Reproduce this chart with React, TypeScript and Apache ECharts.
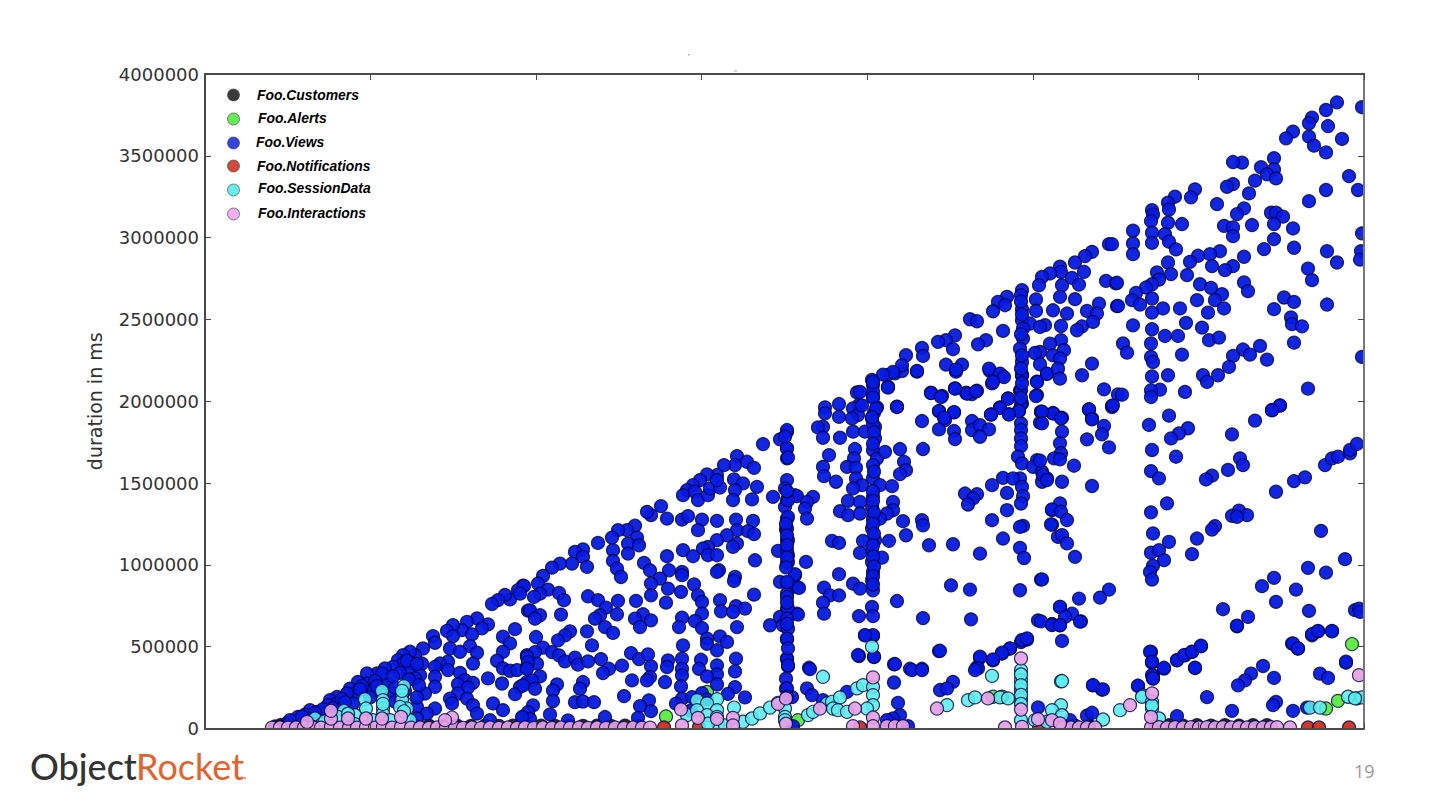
import React, { useEffect, useRef } from "react";
import * as echarts from "echarts";

// x: elapsed time in axis units (the original axis has no labels); y: duration in thousands of ms
const viewsLow = [[318,873],[313,846],[305,789],[300,816],[293,785],[287,761],[323,720],[310,607],[283,636],[272,673],[262,652],[277,612],[257,601],[267,575],[248,632],[242,597],[248,565],[228,565],[230,524],[218,489],[298,561],[305,520],[298,469],[292,414],[265,503],[272,463],[245,489],[255,469],[268,397],[322,448],[298,367],[305,353],[312,357],[322,377],[283,306],[297,275],[322,285],[315,255],[310,210],[288,153],[298,112],[243,408],[235,397],[230,377],[243,357],[230,316],[255,340],[260,295],[268,279],[253,271],[263,250],[253,214],[245,183],[262,183],[268,142],[272,91],[247,153],[230,255],[220,214],[212,132],[230,122],[222,91],[285,51],[318,71],[212,61],[217,397],[210,448],[205,469],[198,448],[193,418],[198,397],[207,397],[203,346],[215,326],[210,306],[188,377],[180,367],[172,336],[162,336],[153,285],[162,275],[182,275],[177,336],[187,218],[145,244],[150,214],[142,214],[148,153],[132,193],[125,173],[132,153],[123,143],[105,112],[112,102],[93,71],[85,51],[167,224],[116,92],[100,85],[128,125],[200,230],[190,250],[195,340],[188,320],[202,415],[212,395],[170,290],[157,260],[137,180],[140,160],[118,118],[110,95],[97,72],[204,300],[214,265],[172,260],[155,240],[165,190],[190,165],[212,190]];
const viewsMidA = [[558,1738],[582,1814],[575,1767],[582,1712],[582,1651],[532,1665],[530,1610],[519,1610],[542,1630],[549,1593],[512,1549],[502,1553],[495,1518],[488,1487],[482,1457],[478,1426],[490,1447],[493,1396],[503,1426],[505,1467],[515,1473],[512,1518],[529,1522],[538,1498],[530,1457],[552,1477],[528,1396],[547,1400],[456,1359],[446,1304],[442,1324],[462,1283],[477,1277],[483,1298],[497,1277],[493,1212],[512,1269],[531,1277],[548,1269],[430,1239],[422,1212],[413,1212],[407,1167],[393,1134],[432,1167],[423,1130],[434,1120],[408,1090],[423,1069],[408,1024],[412,977],[416,926],[378,1094],[370,1079],[378,1049],[367,1008],[355,1008],[347,983],[382,988],[532,1212],[522,1181],[512,1151],[503,1110],[498,1100],[532,1130],[528,1110],[543,1206],[549,1188],[478,1090],[488,1053],[462,1053],[503,1059],[512,1059],[550,1028],[439,1012],[445,967],[464,967],[477,957],[477,937],[514,967],[512,957],[530,926],[529,902],[455,916],[446,886],[463,855],[489,881],[476,835],[446,814],[549,818],[338,932],[333,886],[343,849],[354,828],[335,824],[329,804],[359,784],[319,871],[315,824],[383,808],[393,784],[413,780],[431,780],[461,769],[493,814],[497,773],[515,784],[531,747],[540,733],[516,716],[528,712],[401,739],[395,692],[390,671],[325,722],[335,692],[330,671],[356,696],[412,698],[497,702],[438,698],[430,671],[446,661],[435,620],[477,677],[474,620],[490,657],[497,614],[532,620],[400,620],[408,584],[382,594],[365,594],[360,569],[353,539],[331,559],[515,563],[522,529],[502,549],[502,518],[512,478],[478,508],[387,508],[338,494],[330,467],[347,467],[322,437],[354,447],[360,410],[370,433],[373,390],[383,410],[396,424],[332,396],[323,406],[322,365],[426,461],[434,424],[443,453],[446,380],[417,384],[404,365],[398,339],[445,314],[442,294],[427,294],[460,284],[463,416],[462,376],[477,427],[477,365],[477,325],[476,257],[496,420],[494,365],[512,386],[512,331],[502,318],[512,269],[531,427],[530,349],[530,253],[335,318],[327,294],[318,263],[330,243],[352,269],[348,233],[378,284],[375,243],[348,168],[370,161],[378,165],[389,161],[419,198],[444,172],[435,137],[446,106],[433,65],[400,70],[363,49],[345,86],[328,141],[323,100],[325,59],[317,70],[477,182],[487,192],[497,216]];
const viewsColumn582 = [[582,427],[583,380],[581,304],[581,243],[587,192],[582,1518],[580,1467],[568,1416],[582,1396],[590,1426],[580,1355],[582,1283],[581,1216],[582,1151],[573,1086],[583,1059],[582,1012],[590,937],[575,896],[582,890],[582,824],[592,865],[582,733],[575,682],[592,702],[565,631],[578,631],[582,545],[582,1824],[580,1783],[582,1712],[583,1656],[592,1420],[583,1395],[608,1416],[602,1385],[600,1344],[602,1283],[583,1293],[582,1222],[583,1151],[582,1089],[583,1018],[601,1018],[590,943],[582,896],[594,859],[582,804],[583,732],[593,696],[582,671],[583,610],[582,549],[582,426],[583,386],[582,1450],[581,1250],[582,1180],[582,1120],[582,1045],[581,985],[582,770],[582,640],[583,490]];
const viewsColumn668 = [[667,2130],[668,2099],[668,2028],[672,1963],[667,1895],[670,1844],[670,1773],[668,1701],[672,1650],[668,1610],[668,1528],[675,1487],[668,1416],[667,1355],[668,1283],[667,1222],[670,1151],[667,1089],[667,1018],[668,957],[667,906],[668,845],[680,1691],[695,1708],[699,1630],[701,1579],[695,1555],[652,2054],[683,2089],[692,1967],[654,1977],[648,1956],[653,1916],[647,1895],[648,1814],[660,1814],[620,1963],[634,1983],[620,1926],[634,1905],[618,1844],[613,1840],[618,1777],[635,1777],[650,1708],[649,1650],[624,1671],[618,1599],[642,1599],[651,1593],[619,1542],[651,1528],[631,1508],[657,1487],[648,1467],[687,1481],[643,1391],[655,1385],[688,1385],[635,1328],[643,1304],[655,1314],[688,1334],[682,1314],[675,1283],[698,1267],[717,1273],[718,1242],[701,1181],[627,1147],[634,1134],[658,1147],[684,1147],[724,1120],[655,1073],[677,1044],[634,943],[648,885],[655,855],[619,861],[625,814],[634,814],[618,769],[619,702],[654,687],[692,779],[667,743],[668,687],[660,569],[668,565],[654,443],[669,437],[718,675],[766,667],[734,473],[689,392],[705,365],[717,365],[604,371],[668,2060],[669,1930],[668,1860],[669,1810],[668,1740],[669,1570],[668,1450],[668,1390],[669,1320],[668,1250],[669,1190],[668,1120],[668,1050],[669,990],[668,930],[668,880]];
const viewsMidB = [[712,2181],[682,2160],[690,2171],[697,2185],[751,2181],[726,2052],[737,2032],[750,2079],[761,2052],[767,2044],[772,2064],[734,1940],[749,1932],[740,1885],[717,1879],[734,1828],[749,1818],[750,1769],[767,1879],[767,1824],[775,1854],[784,1828],[775,1783],[718,1708],[787,2109],[797,2154],[785,2185],[817,2160],[832,2120],[842,2167],[815,2065],[832,2038],[803,2018],[795,1963],[786,1920],[804,1920],[817,1987],[814,1942],[836,1936],[848,1926],[835,1869],[816,1865],[816,1824],[816,1773],[816,1726],[813,1661],[817,1620],[815,1528],[798,1532],[808,1528],[817,1477],[818,1420],[816,1375],[802,1440],[787,1487],[832,1640],[828,1599],[837,1569],[842,1528],[837,1508],[760,1436],[772,1432],[768,1406],[763,1369],[802,1334],[787,1273],[818,1238],[815,1232],[847,1246],[847,1334],[853,1171],[798,1161],[748,1126],[815,1104],[775,1069],[819,1042],[746,875],[765,849],[815,845],[836,910],[833,661],[847,637],[855,743],[822,543],[816,528],[805,488],[797,457],[788,416],[775,432],[772,375]];
const viewsUpperA = [[904,2960],[887,2913],[880,2887],[870,2848],[879,2791],[855,2822],[856,2791],[845,2781],[837,2760],[834,2709],[857,2709],[855,2638],[867,2754],[874,2713],[870,2624],[901,2736],[911,2720],[912,2581],[894,2597],[882,2552],[892,2536],[862,2536],[848,2556],[831,2622],[831,2552],[817,2679],[816,2648],[817,2563],[817,2495],[825,2475],[818,2444],[840,2465],[835,2454],[856,2460],[877,2458],[872,2434],[888,2485],[802,2638],[793,2607],[800,2587],[788,2550],[765,2501],[772,2489],[798,2430],[750,2403],[741,2373],[733,2363],[748,2318],[781,2373],[773,2348],[717,2326],[718,2277],[701,2281],[697,2220],[688,2179],[678,2163],[712,2185],[668,2118],[683,2083],[818,2383],[815,2322],[817,2240],[817,2159],[816,2067],[832,2118],[831,2032],[856,2373],[845,2352],[859,2312],[848,2281],[855,2261],[835,2301],[830,2295],[835,2226],[842,2169],[853,2199],[855,2138],[887,2230],[877,2159],[899,2073],[913,2042],[907,1965],[784,2199],[795,2169],[799,2148],[788,2118],[741,2224],[757,2224],[751,2193],[750,2077],[726,2050],[736,2026],[762,2046],[771,2061],[803,2016],[795,1959],[816,1981],[814,1940],[804,1920],[786,1918],[734,1940],[749,1934],[739,1899],[692,1965],[668,2022],[671,1955],[667,1903],[655,2057],[657,1975],[836,1934],[848,1928],[857,1899],[884,1948],[887,1893],[816,2610],[817,2530],[816,2410],[817,2280],[816,2200],[817,2110],[816,2020]];
const viewsRightLow = [[884,1951],[907,1971],[887,1890],[899,1849],[897,1798],[882,1767],[904,1718],[848,1926],[856,1896],[857,1814],[855,1743],[856,1682],[849,1651],[855,1645],[869,1606],[837,1937],[837,1865],[835,1637],[838,1549],[842,1518],[857,1508],[887,1482],[855,1376],[847,1339],[856,1325],[862,1274],[846,1247],[857,1182],[862,1131],[870,1049],[837,911],[904,849],[895,800],[874,794],[855,743],[867,702],[860,682],[876,655],[855,631],[847,637],[836,655],[857,535],[888,264],[897,237],[944,1855],[964,1912],[983,1835],[974,1804],[966,1773],[947,1702],[971,1661],[946,1573],[954,1529],[962,1376],[946,1321],[948,1192],[964,1141],[946,1074],[954,1090],[959,1029],[948,994],[945,957],[947,910],[992,1161],[987,1066],[1027,1798],[1050,1882],[1067,1947],[1075,1973],[1035,1651],[1038,1610],[1023,1580],[1007,1545],[1001,1522],[1071,1447],[1089,1512],[1100,1535],[1120,1610],[1127,1651],[1133,1661],[1145,1682],[1145,1702],[1152,1739],[1027,1300],[1034,1331],[1042,1304],[1032,1294],[1010,1237],[1007,1216],[1116,1208],[1140,1035],[1103,982],[1121,953],[1069,921],[1057,870],[1091,849],[1071,774],[1018,729],[1104,719],[1043,682],[1032,625],[1150,723],[1154,733],[1155,713],[1127,594],[1113,594],[1107,570],[1087,519],[1093,488],[996,502],[987,468],[980,447],[972,417],[990,370],[959,366],[946,468],[947,402],[948,325],[948,305],[933,260],[1058,382],[1046,335],[1040,294],[1033,264],[1069,309],[1115,335],[1123,309],[1141,402],[1002,192],[1071,162]];
const viewsUpperB = [[1132,3827],[1121,3780],[1157,3797],[1107,3733],[1104,3699],[1123,3682],[1088,3648],[1081,3607],[1104,3617],[1109,3562],[1137,3603],[1121,3521],[1069,3485],[1037,3458],[1028,3462],[1056,3430],[1069,3417],[1062,3387],[1071,3362],[1050,3348],[1144,3376],[1121,3291],[1153,3291],[1104,3223],[1028,3327],[1022,3311],[1044,3270],[1012,3205],[990,3295],[986,3246],[970,3250],[963,3213],[964,3172],[947,3168],[948,3142],[946,3101],[963,3091],[977,3083],[928,3042],[947,3030],[960,3021],[907,2960],[928,2964],[947,2968],[964,2975],[971,2928],[928,2899],[1039,3179],[1032,3144],[1019,3072],[1028,3062],[1028,3009],[1047,3077],[1066,3152],[1071,3152],[1078,3128],[1069,3083],[1088,3056],[1069,2991],[1059,2930],[1089,2938],[1157,3026],[1015,2917],[1005,2899],[993,2889],[985,2852],[1007,2826],[1039,2883],[1028,2826],[1020,2801],[1122,2917],[1156,2917],[1155,2866],[1132,2848],[1103,2811],[1107,2740],[963,2848],[952,2787],[966,2777],[982,2771],[954,2744],[947,2715],[941,2695],[912,2724],[1039,2726],[1043,2673],[995,2715],[1006,2693],[1017,2654],[1010,2618],[992,2618],[1019,2567],[1003,2542],[975,2567],[958,2567],[947,2542],[947,2628],[931,2662],[927,2618],[935,2591],[913,2583],[1079,2634],[1089,2607],[1122,2591],[1069,2563],[1086,2512],[1087,2471],[1097,2458],[1089,2358],[981,2479],[997,2450],[947,2440],[928,2464],[960,2399],[973,2399],[1004,2373],[1014,2389],[946,2353],[918,2353],[922,2297],[1055,2338],[1038,2316],[1045,2285],[1062,2254],[1028,2277],[1024,2210],[977,2285],[946,2271],[948,2240],[1157,2271],[947,2152],[963,2159],[998,2159],[1002,2118],[1013,2159],[980,2057],[955,2071],[946,2067],[946,2026],[917,2040],[1103,2077],[908,1975],[1075,1975],[1067,1944]];
const viewsBottom = [[847,632],[855,632],[875,653],[817,541],[822,551],[805,490],[797,463],[788,422],[775,439],[773,367],[770,357],[833,129],[888,265],[898,239],[933,261],[945,469],[947,408],[947,326],[948,306],[959,371],[972,418],[979,449],[987,469],[996,506],[990,371],[1032,628],[1088,520],[1093,490],[1107,577],[1113,596],[1127,596],[1141,408],[1027,108],[1068,143],[1088,108],[1102,128],[882,78],[887,96],[972,76],[865,51],[690,394],[707,357],[717,357],[689,281],[693,157],[695,81],[688,61],[682,51],[735,475],[735,235],[748,285],[742,245],[653,449],[669,439],[668,571],[660,571],[605,363],[602,245],[607,204],[618,173],[642,224],[582,245],[582,194],[703,14],[588,14],[502,178],[471,152],[486,110],[523,212],[540,190]];
const customers = [[70,12],[76,22],[82,32],[90,45],[98,58],[106,66],[118,72],[210,16],[224,18],[238,16],[252,18],[266,16],[280,18],[294,16],[308,18],[322,16],[336,18],[350,16],[364,18],[378,16],[392,18],[406,16],[420,18],[434,16],[856,17],[870,18],[884,17],[950,18],[964,20],[978,18],[992,20],[1006,18],[1020,20],[1034,18],[1048,20],[1062,20]];
const alerts = [[502,223],[461,74],[593,51],[788,194],[797,194],[1121,122],[1147,516],[1133,169],[1152,184],[177,260]];
const notifications = [[459,6],[494,6],[655,6],[834,3],[1103,6],[1114,6],[1144,6]];
const sessionData = [[199,259],[197,204],[200,153],[197,173],[202,122],[195,132],[177,230],[178,173],[178,122],[178,91],[160,179],[161,122],[150,81],[139,108],[133,71],[110,61],[117,26],[150,26],[168,51],[185,51],[205,51],[108,10],[197,230],[199,105],[178,150],[143,90],[120,45],[492,173],[512,179],[502,153],[512,112],[529,128],[482,82],[492,112],[502,82],[512,71],[513,31],[538,41],[547,61],[555,92],[565,128],[573,157],[580,122],[580,71],[580,51],[618,316],[667,500],[603,82],[608,102],[622,153],[627,163],[635,190],[652,245],[658,265],[668,255],[668,204],[668,143],[628,122],[633,112],[642,102],[662,122],[742,143],[503,29],[520,19],[856,288],[938,202],[787,322],[857,290],[915,112],[898,55],[763,173],[770,190],[795,190],[803,184],[816,357],[816,296],[816,235],[816,177],[816,51],[816,330],[816,265],[816,205],[816,150],[856,143],[847,112],[857,81],[830,51],[842,41],[937,194],[947,163],[947,122],[954,61],[947,140],[1105,128],[1115,128],[1143,194],[1157,190],[1150,184]];
const interactions = [[196,71],[177,61],[161,61],[143,61],[126,61],[102,40],[126,108],[247,67],[240,51],[476,117],[493,65],[512,59],[528,65],[573,151],[581,184],[581,29],[528,19],[477,19],[615,122],[650,122],[668,312],[668,67],[648,14],[668,14],[682,14],[690,14],[698,14],[732,122],[783,184],[816,428],[816,116],[833,57],[847,51],[800,6],[817,10],[925,143],[947,214],[946,71],[1085,6],[1154,326],[855,31]];
const interactionsRow = [[67,5],[75,6],[83,5],[91,6],[99,5],[108,6],[116,5],[126,12],[135,5],[144,6],[152,5],[161,8],[170,5],[178,10],[187,5],[196,8],[206,5],[215,6],[224,4],[232,6],[241,4],[250,6],[258,4],[267,6],[276,4],[285,6],[294,4],[303,6],[312,4],[320,6],[329,4],[338,6],[347,4],[356,6],[365,4],[374,6],[383,4],[392,6],[401,4],[410,6],[419,4],[428,6],[437,5],[445,5],[858,6],[866,6],[874,6],[882,6],[890,6],[946,6],[954,8],[962,6],[970,8],[978,6],[986,8],[994,6],[1002,8],[1010,6],[1018,8],[1026,6],[1034,8],[1042,6],[1050,8],[1058,6],[1066,8],[1072,8]];

const seriesNames = ["Foo.Customers", "Foo.Alerts", "Foo.Views", "Foo.Notifications", "Foo.SessionData", "Foo.Interactions"];
const seriesFill = ["rgba(20,20,20,0.9)", "rgba(80,235,50,0.9)", "rgba(5,25,225,0.95)", "rgba(205,40,20,0.92)", "rgba(90,238,238,0.88)", "rgba(230,160,230,0.92)"];
const legendFill = ["#3a3a3a", "#66ee55", "#3344e0", "#d24a3a", "#66eeee", "#eeb0ee"];
const legendTextX = [257, 258, 256, 257, 258, 258];
const legendTextY = [95, 118, 142, 166, 188, 213];
const legendDotY = [95, 119, 143, 166, 190, 214];
const views = [...viewsLow, ...viewsMidA, ...viewsColumn582, ...viewsColumn668, ...viewsMidB, ...viewsUpperA, ...viewsRightLow, ...viewsUpperB, ...viewsBottom];
const seriesPoints = [customers, alerts, views, notifications, sessionData, [...interactionsRow, ...interactions]];
const toMs = (pts: number[][]) => pts.map(([x, y]) => [x, y * 1000]);

const xMax = 1159;
const xInterval = xMax / 7;
const yMax = 4000000;
const yInterval = 500000;
const axisColor = "#4a4a4a";

export default function App() {
  const ref = useRef<HTMLDivElement>(null);
  useEffect(() => {
    const chart = echarts.init(ref.current!, undefined, { renderer: "svg" });
    const tick = { show: true, inside: true, length: 6, lineStyle: { color: axisColor, width: 1 } };
    const xBase = { type: "value", min: 0, max: xMax, interval: xInterval, z: 30, splitLine: { show: false }, axisLabel: { show: false }, axisTick: tick, axisLine: { show: true, onZero: false, lineStyle: { color: axisColor, width: 2 } } };
    const yBase = { type: "value", min: 0, max: yMax, interval: yInterval, z: 30, splitLine: { show: false }, axisTick: tick, axisLine: { show: true, onZero: false, lineStyle: { color: axisColor, width: 2 } } };
    chart.setOption({
      animation: false,
      backgroundColor: "#fff",
      textStyle: { fontFamily: "DejaVu Sans" },
      grid: { left: 205, top: 74, width: 1159, height: 654.5, containLabel: false },
      xAxis: [{ ...xBase, position: "bottom" }, { ...xBase, position: "top" }],
      yAxis: [
        { ...yBase, position: "left", name: "duration in ms", nameLocation: "middle", nameGap: 101,
          nameTextStyle: { fontFamily: "DejaVu Sans", fontSize: 19, color: "#333" },
          axisLabel: { show: true, margin: 6, fontFamily: "DejaVu Sans", fontSize: 18, color: "#333", formatter: (v: number) => String(v) } },
        { ...yBase, position: "right", axisLabel: { show: false }, axisLine: { show: true, onZero: false, lineStyle: { color: "#777", width: 2 } } },
      ],
      series: seriesNames.map((name, i) => ({
        name,
        type: "scatter",
        data: toMs(seriesPoints[i]),
        symbol: "circle",
        symbolSize: 13,
        clip: true,
        itemStyle: { color: seriesFill[i], borderColor: "rgba(0,5,70,0.8)", borderWidth: 1.2, opacity: 1 },
        z: 2 + i,
      })),
      graphic: [
        { type: "rect", shape: { x: 205, y: 729, width: 1175, height: 20 }, style: { fill: "#fff" }, z: 15 },
        { type: "rect", shape: { x: 1365, y: 60, width: 15, height: 690 }, style: { fill: "#fff" }, z: 15 },
        { type: "rect", shape: { x: 688, y: 54, width: 1.5, height: 1.5 }, style: { fill: "#aaa" }, z: 20 },
        { type: "rect", shape: { x: 734, y: 70.5, width: 3, height: 1 }, style: { fill: "#aaa" }, z: 20 },
        ...seriesNames.map((name, i) => ({
          type: "circle", shape: { cx: 233.5, cy: legendDotY[i], r: 6 },
          style: { fill: legendFill[i], stroke: "rgba(60,60,60,0.6)", lineWidth: 1 }, z: 20,
        })),
        ...seriesNames.map((name, i) => ({
          type: "text", x: legendTextX[i], y: legendTextY[i],
          style: { text: name, fill: "#000", font: "italic bold 13.9px 'Liberation Sans'", textVerticalAlign: "middle" }, z: 20,
        })),
        { type: "text", x: 30, y: 765.5, style: { text: "Object", fill: "#333333", font: "500 36px Lato", textVerticalAlign: "middle" }, z: 20 },
        { type: "text", x: 136, y: 765.5, style: { text: "Rocket", fill: "#e8602a", font: "400 36px Lato", textVerticalAlign: "middle" }, z: 20 },
        { type: "circle", shape: { cx: 245, cy: 778, r: 0.8 }, style: { fill: "#e8602a" }, z: 20 },
        { type: "text", x: 1354, y: 771, style: { text: "19", fill: "#999999", font: "18px 'Open Sans'", textVerticalAlign: "middle" }, z: 20 },
      ],
    });
    return () => chart.dispose();
  }, []);
  return <div ref={ref} style={{ position: "fixed", left: 0, top: 0, width: 1440, height: 810, background: "#fff" }} />;
}
